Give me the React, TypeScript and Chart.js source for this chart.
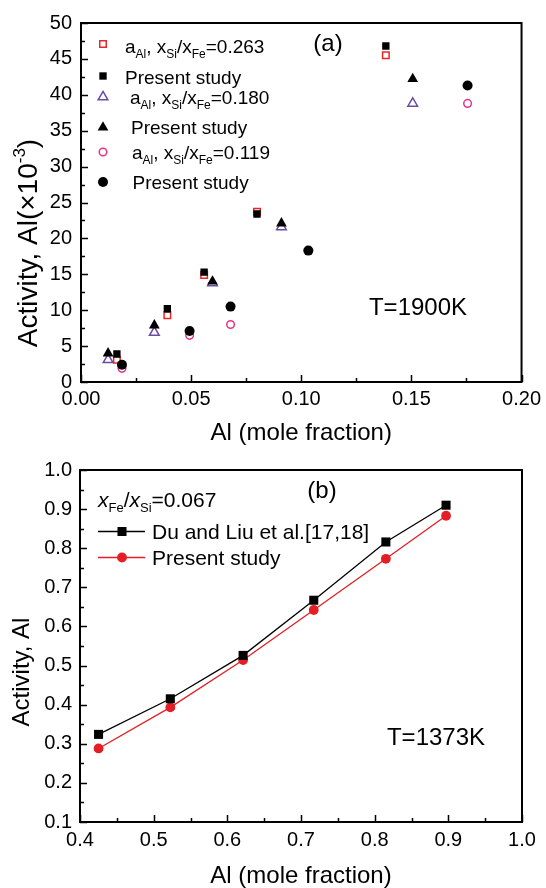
import React, { useEffect, useRef } from 'react';
import { Chart, registerables } from 'chart.js';

Chart.register(...registerables);

const FONT = "'Liberation Sans', Arial, Helvetica, sans-serif";

// ---------- Panel (a): T = 1900 K ----------
const aXSq = [0.0163, 0.0392, 0.0559, 0.0799, 0.1384];
const aYRef263 = [3.1, 9.3, 14.9, 23.7, 45.5];
const aYPres263 = [3.9, 10.2, 15.3, 23.4, 46.8];
const aXTri = [0.0123, 0.0333, 0.0597, 0.091, 0.1506];
const aYRef180 = [3.1, 6.9, 13.8, 21.6, 38.8];
const aYPres180 = [4.0, 7.9, 14.0, 22.1, 42.2];
const aXCircRef = [0.0186, 0.0493, 0.0679, 0.1755];
const aYRef119 = [1.9, 6.5, 8.0, 38.8];
const aXCirc = [0.0186, 0.0493, 0.0679, 0.1032, 0.1755];
const aYPres119 = [2.4, 7.1, 10.5, 18.3, 41.3];
const aXRange = [0, 0.2];
const aYRange = [0, 50];

// ---------- Panel (b): T = 1373 K ----------
const bX = [0.4252, 0.5226, 0.6214, 0.7173, 0.8152, 0.8969];
const bYDu = [0.324, 0.415, 0.526, 0.667, 0.816, 0.91];
const bYPres = [0.288, 0.393, 0.514, 0.642, 0.773, 0.883];
const bXRange = [0.4, 1.0];
const bYRange = [0.1, 1.0];

const RED = '#e8262a';
const PURPLE = '#6a4ca6';
const MAGENTA = '#e6338c';
const BRED = '#e41e25';

type Seg = { t: string; size: number; dy?: number; italic?: boolean };
const segFont = (s: Seg) => `${s.italic ? 'italic ' : ''}${s.size}px ${FONT}`;
function richWidth(ctx: CanvasRenderingContext2D, segs: Seg[]) {
  let w = 0;
  for (const s of segs) {
    ctx.font = segFont(s);
    w += ctx.measureText(s.t).width;
  }
  return w;
}
function drawRich(ctx: CanvasRenderingContext2D, x: number, y: number, segs: Seg[]) {
  ctx.textAlign = 'left';
  ctx.textBaseline = 'alphabetic';
  ctx.fillStyle = '#000';
  let cx = x;
  for (const s of segs) {
    ctx.font = segFont(s);
    ctx.fillText(s.t, cx, y + (s.dy || 0));
    cx += ctx.measureText(s.t).width;
  }
}

function drawMarker(ctx: CanvasRenderingContext2D, style: string, x: number, y: number, r: number, fill: string, stroke: string, lw: number) {
  ctx.save();
  ctx.beginPath();
  if (style === 'rect') {
    const h = r * Math.SQRT1_2;
    ctx.rect(x - h, y - h, 2 * h, 2 * h);
  } else if (style === 'triangle') {
    for (let k = 0; k < 3; k++) {
      const a = (k * 2 * Math.PI) / 3;
      const px = x + Math.sin(a) * r;
      const py = y - Math.cos(a) * r;
      if (k === 0) ctx.moveTo(px, py);
      else ctx.lineTo(px, py);
    }
    ctx.closePath();
  } else {
    ctx.arc(x, y, r, 0, Math.PI * 2);
  }
  ctx.fillStyle = fill;
  ctx.fill();
  if (lw > 0) {
    ctx.strokeStyle = stroke;
    ctx.lineWidth = lw;
    ctx.stroke();
  }
  ctx.restore();
}

function drawFrame(chart: any) {
  const { ctx, chartArea: a, scales } = chart;
  const xs = scales.x;
  const ys = scales.y;
  ctx.save();
  ctx.strokeStyle = '#000';
  ctx.lineWidth = 1.5;
  const xt = xs.ticks.map((t: any) => t.value);
  const yt = ys.ticks.map((t: any) => t.value);
  ctx.beginPath();
  for (let i = 0; i < xt.length; i++) {
    const p = Math.round(xs.getPixelForValue(xt[i])) + 0.5;
    ctx.moveTo(p, a.bottom);
    ctx.lineTo(p, a.bottom - 7);
    if (i < xt.length - 1) {
      const m = Math.round(xs.getPixelForValue((xt[i] + xt[i + 1]) / 2)) + 0.5;
      ctx.moveTo(m, a.bottom);
      ctx.lineTo(m, a.bottom - 4);
    }
  }
  for (let i = 0; i < yt.length; i++) {
    const p = Math.round(ys.getPixelForValue(yt[i])) + 0.5;
    ctx.moveTo(a.left, p);
    ctx.lineTo(a.left + 7, p);
    if (i < yt.length - 1) {
      const m = Math.round(ys.getPixelForValue((yt[i] + yt[i + 1]) / 2)) + 0.5;
      ctx.moveTo(a.left, m);
      ctx.lineTo(a.left + 4, m);
    }
  }
  ctx.stroke();
  ctx.lineWidth = 2;
  ctx.strokeRect(a.left, a.top, a.right - a.left, a.bottom - a.top);
  ctx.restore();
}

function drawVerticalTitle(ctx: CanvasRenderingContext2D, x: number, cy: number, segs: Seg[]) {
  const w = richWidth(ctx, segs);
  ctx.save();
  ctx.translate(x, cy);
  ctx.rotate(-Math.PI / 2);
  drawRich(ctx, -w / 2, 0, segs);
  ctx.restore();
}

function centered(ctx: CanvasRenderingContext2D, text: string, size: number, x: number, y: number) {
  ctx.save();
  ctx.font = `${size}px ${FONT}`;
  ctx.fillStyle = '#000';
  ctx.textAlign = 'center';
  ctx.textBaseline = 'alphabetic';
  ctx.fillText(text, x, y);
  ctx.restore();
}

const decoA = {
  id: 'decoA',
  afterDraw(chart: any) {
    const ctx: CanvasRenderingContext2D = chart.ctx;
    drawFrame(chart);
    const LS = 19;
    const SS = 12;
    const refRow = (v: string): Seg[] => [
      { t: 'a', size: LS },
      { t: 'Al', size: SS, dy: 5 },
      { t: ', x', size: LS },
      { t: 'Si', size: SS, dy: 5 },
      { t: '/x', size: LS },
      { t: 'Fe', size: SS, dy: 5 },
      { t: '=' + v, size: LS },
    ];
    const pres: Seg[] = [{ t: 'Present study', size: LS }];
    const mx = 103;
    drawMarker(ctx, 'rect', mx, 44, 4.6, '#fff', RED, 1.5);
    drawRich(ctx, 125, 53, refRow('0.263'));
    drawMarker(ctx, 'rect', mx, 76, 5.2, '#000', '#000', 0);
    drawRich(ctx, 125, 83.5, pres);
    drawMarker(ctx, 'triangle', mx, 97, 5.6, '#fff', PURPLE, 1.5);
    drawRich(ctx, 130, 104, refRow('0.180'));
    drawMarker(ctx, 'triangle', mx, 127.5, 6.2, '#000', '#000', 0);
    drawRich(ctx, 131, 134, pres);
    drawMarker(ctx, 'circle', mx, 152, 3.8, '#fff', MAGENTA, 1.5);
    drawRich(ctx, 132, 159, refRow('0.119'));
    drawMarker(ctx, 'circle', mx, 182, 5, '#000', '#000', 0);
    drawRich(ctx, 132.5, 189, pres);

    centered(ctx, '(a)', 24, 328, 51);
    centered(ctx, 'T=1900K', 24, 418, 315);

    drawVerticalTitle(ctx, 37, 243, [
      { t: 'Activity, Al(\u00d710', size: 28 },
      { t: '-3', size: 17, dy: -12 },
      { t: ')', size: 28 },
    ]);
  },
};

const decoB = {
  id: 'decoB',
  afterDraw(chart: any) {
    const ctx: CanvasRenderingContext2D = chart.ctx;
    drawFrame(chart);
    drawRich(ctx, 98, 56.5, [
      { t: 'x', size: 21, italic: true },
      { t: 'Fe', size: 13, dy: 5 },
      { t: '/', size: 21 },
      { t: 'x', size: 21, italic: true },
      { t: 'Si', size: 13, dy: 5 },
      { t: '=0.067', size: 21 },
    ]);
    ctx.save();
    ctx.lineWidth = 1.3;
    ctx.strokeStyle = '#000';
    ctx.beginPath();
    ctx.moveTo(98, 81.5);
    ctx.lineTo(145, 81.5);
    ctx.stroke();
    ctx.strokeStyle = BRED;
    ctx.beginPath();
    ctx.moveTo(98, 107.5);
    ctx.lineTo(145, 107.5);
    ctx.stroke();
    ctx.restore();
    drawMarker(ctx, 'rect', 122, 81.5, 6.4, '#000', '#000', 0);
    drawMarker(ctx, 'circle', 122, 107.5, 4.9, BRED, BRED, 0);
    drawRich(ctx, 152, 89, [{ t: 'Du and Liu et al.[17,18]', size: 21 }]);
    drawRich(ctx, 152, 115, [{ t: 'Present study', size: 21 }]);

    centered(ctx, '(b)', 24, 322, 48);
    centered(ctx, 'T=1373K', 24, 436, 294.5);

    drawVerticalTitle(ctx, 29, 222, [{ t: 'Activity, Al', size: 24 }]);
  },
};

const tickFont = { family: FONT, size: 20 };

function makeAxes(xr: number[], yr: number[], xStep: number, yStep: number, xDec: number, yDec: number, xH: number, yW: number, xPad: number, yPad: number, titleLH: number, titlePad: number) {
  return {
    x: {
      type: 'linear',
      position: 'bottom',
      min: xr[0],
      max: xr[1],
      ticks: {
        stepSize: xStep,
        autoSkip: false,
        maxRotation: 0,
        padding: xPad,
        color: '#000',
        font: tickFont,
        callback: (v: any) => Number(v).toFixed(xDec),
      },
      grid: { display: false, drawTicks: false },
      border: { display: false },
      title: {
        display: true,
        text: 'Al (mole fraction)',
        color: '#000',
        font: { family: FONT, size: 24, lineHeight: titleLH },
        padding: { top: 0, bottom: titlePad },
      },
      afterFit: (s: any) => {
        s.height = xH;
      },
    },
    y: {
      type: 'linear',
      min: yr[0],
      max: yr[1],
      ticks: {
        stepSize: yStep,
        autoSkip: false,
        padding: yPad,
        color: '#000',
        font: tickFont,
        callback: (v: any) => Number(v).toFixed(yDec),
      },
      grid: { display: false, drawTicks: false },
      border: { display: false },
      afterFit: (s: any) => {
        s.width = yW;
      },
    },
  };
}

const pts = (xs: number[], ys: number[]) => xs.map((x, i) => ({ x, y: ys[i] }));

export default function App() {
  const topRef = useRef<HTMLCanvasElement>(null);
  const botRef = useRef<HTMLCanvasElement>(null);

  useEffect(() => {
    const cA = new Chart(topRef.current as HTMLCanvasElement, {
      type: 'scatter',
      data: {
        datasets: [
          { label: 'Present study 0.263', data: pts(aXSq, aYPres263), pointStyle: 'rect', pointRadius: 5.2, backgroundColor: '#000', borderColor: '#000', borderWidth: 0, order: 0 },
          { label: 'Present study 0.180', data: pts(aXTri, aYPres180), pointStyle: 'triangle', pointRadius: 6.2, backgroundColor: '#000', borderColor: '#000', borderWidth: 0, order: 0 },
          { label: 'Present study 0.119', data: pts(aXCirc, aYPres119), pointStyle: 'circle', pointRadius: 5, backgroundColor: '#000', borderColor: '#000', borderWidth: 0, order: 0 },
          { label: 'aAl 0.263', data: pts(aXSq, aYRef263), pointStyle: 'rect', pointRadius: 4.6, backgroundColor: '#fff', borderColor: RED, borderWidth: 1.5, order: 1 },
          { label: 'aAl 0.180', data: pts(aXTri, aYRef180), pointStyle: 'triangle', pointRadius: 5.6, backgroundColor: '#fff', borderColor: PURPLE, borderWidth: 1.5, order: 1 },
          { label: 'aAl 0.119', data: pts(aXCircRef, aYRef119), pointStyle: 'circle', pointRadius: 3.8, backgroundColor: '#fff', borderColor: MAGENTA, borderWidth: 1.5, order: 1 },
        ],
      },
      options: {
        responsive: false,
        animation: false,
        devicePixelRatio: 1,
        layout: { padding: { left: 0, right: 24, top: 23, bottom: 0 } },
        plugins: { legend: { display: false }, tooltip: { enabled: false } },
        scales: makeAxes(aXRange, aYRange, 0.05, 5, 2, 0, 450 - 382, 81, 5, 9, 1.2, 2) as any,
      },
      plugins: [decoA],
    } as any);

    const cB = new Chart(botRef.current as HTMLCanvasElement, {
      type: 'line',
      data: {
        datasets: [
          { label: 'Du and Liu et al.[17,18]', data: pts(bX, bYDu), borderColor: '#000', backgroundColor: '#000', borderWidth: 1.3, pointStyle: 'rect', pointRadius: 6.4, pointBorderWidth: 0, pointBackgroundColor: '#000', pointBorderColor: '#000', fill: false, tension: 0 },
          { label: 'Present study', data: pts(bX, bYPres), borderColor: BRED, backgroundColor: BRED, borderWidth: 1.3, pointStyle: 'circle', pointRadius: 4.9, pointBorderWidth: 0, pointBackgroundColor: BRED, pointBorderColor: BRED, fill: false, tension: 0 },
        ],
      },
      options: {
        responsive: false,
        animation: false,
        devicePixelRatio: 1,
        layout: { padding: { left: 0, right: 24, top: 18, bottom: 0 } },
        plugins: { legend: { display: false }, tooltip: { enabled: false } },
        scales: makeAxes(bXRange, bYRange, 0.1, 0.1, 1, 1, 438 - 372, 80, 6, 8, 1.0, 0) as any,
      },
      plugins: [decoB],
    } as any);

    return () => {
      cA.destroy();
      cB.destroy();
    };
  }, []);

  return (
    <div style={{ position: 'absolute', left: 0, top: 0, width: 546, height: 888, background: '#fff', overflow: 'hidden' }}>
      <canvas ref={topRef} width={546} height={450} style={{ position: 'absolute', left: 0, top: 0 }} />
      <canvas ref={botRef} width={546} height={438} style={{ position: 'absolute', left: 0, top: 450 }} />
    </div>
  );
}
